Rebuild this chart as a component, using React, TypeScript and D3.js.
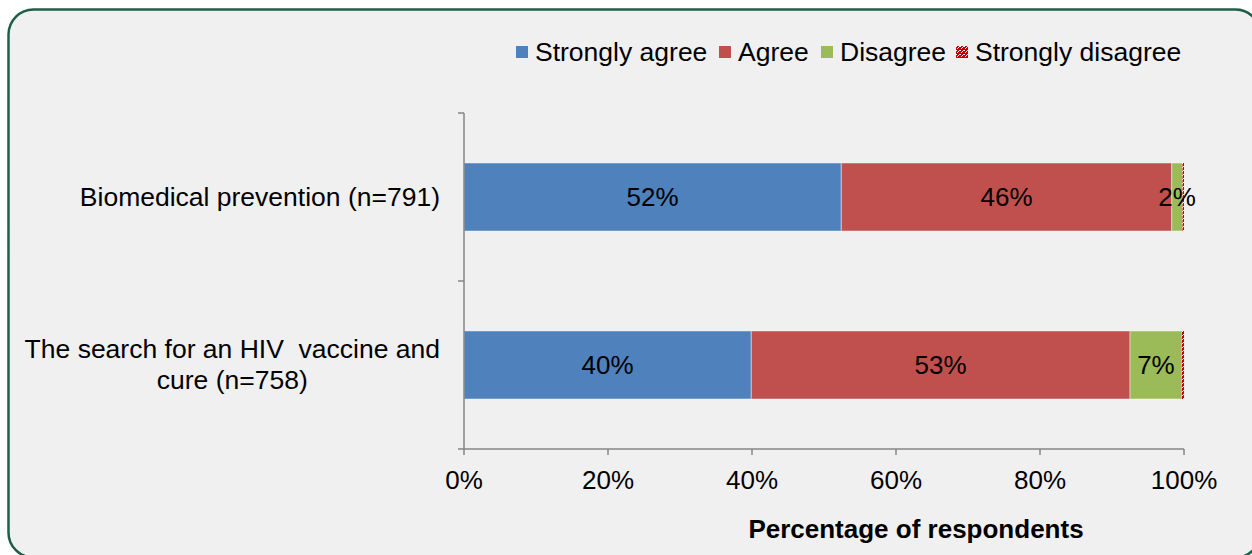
import { useEffect, useRef } from 'react'
import * as d3 from 'd3'

// Stacked 100% bar: agreement by topic
const categories = ['Biomedical prevention (n=791)', 'The search for an HIV  vaccine and cure (n=758)']
const categoryLines = [['Biomedical prevention (n=791)'], ['The search for an HIV  vaccine and', 'cure (n=758)']]
const seriesNames = ['Strongly agree', 'Agree', 'Disagree', 'Strongly disagree']
const stronglyAgree = [52.4, 39.9]
const agree = [45.9, 52.6]
const disagree = [1.5, 7.2]
const stronglyDisagree = [0.2, 0.3]
const dataLabels = [['52%', '46%', '2%', ''], ['40%', '53%', '7%', '']]
const xTicks = [0, 20, 40, 60, 80, 100]
const colors = ['#4f81bd', '#c0504d', '#9bbb59', 'url(#sdPattern)']

const W = 1252
const H = 555
const FONT = '"Liberation Sans", Arial, sans-serif'

export default function App() {
  const svgRef = useRef<SVGSVGElement>(null)

  useEffect(() => {
    document.body.style.margin = '0'
    if (!svgRef.current) return
    const svg = d3.select(svgRef.current)
    svg.selectAll('*').remove()

    const defs = svg.append('defs')
    const pat = defs.append('pattern').attr('id', 'sdPattern').attr('patternUnits', 'userSpaceOnUse')
      .attr('width', 4).attr('height', 4)
    pat.append('rect').attr('width', 4).attr('height', 4).attr('fill', '#c00000')
    pat.append('rect').attr('x', 1).attr('y', 0).attr('width', 1).attr('height', 1).attr('fill', '#fff')
    pat.append('rect').attr('x', 0).attr('y', 2).attr('width', 1).attr('height', 1).attr('fill', '#fff')
    pat.append('rect').attr('x', 3).attr('y', 2).attr('width', 1).attr('height', 1).attr('fill', '#fff')
    pat.append('rect').attr('x', 2).attr('y', 3).attr('width', 1).attr('height', 1).attr('fill', '#fff')

    svg.append('rect').attr('width', W).attr('height', H).attr('fill', '#ffffff')
    // rounded frame, right side runs off the picture
    svg.append('rect').attr('x', 8.5).attr('y', 9.5).attr('width', 1252).attr('height', 548).attr('rx', 25)
      .attr('fill', '#f0f0f0').attr('stroke', '#1f5f47').attr('stroke-width', 2.5)

    const x = d3.scaleLinear().domain([0, 100]).range([464, 1184])
    const y = d3.scaleBand<string>().domain(categories).range([113, 449])
      .paddingInner(0.595).paddingOuter(0.2976)

    const table = categories.map((c, i) => ({
      category: c,
      'Strongly agree': stronglyAgree[i],
      'Agree': agree[i],
      'Disagree': disagree[i],
      'Strongly disagree': stronglyDisagree[i],
    }))
    const stacked = d3.stack<any>().keys(seriesNames)(table)

    const axisColor = '#868686'
    const g = svg.append('g')

    stacked.forEach((layer, si) => {
      layer.forEach((seg, ci) => {
        g.append('rect')
          .attr('x', x(seg[0]))
          .attr('y', y(categories[ci])!)
          .attr('width', x(seg[1]) - x(seg[0]))
          .attr('height', y.bandwidth())
          .attr('fill', colors[si])
          .attr('stroke', si === 3 ? 'none' : 'rgba(255,255,255,0.45)')
          .attr('stroke-width', 1)
      })
    })

    // data labels
    stacked.forEach((layer, si) => {
      layer.forEach((seg, ci) => {
        const t = dataLabels[ci][si]
        if (!t) return
        g.append('text')
          .attr('x', x((seg[0] + seg[1]) / 2))
          .attr('y', y(categories[ci])! + y.bandwidth() / 2 + 9)
          .attr('text-anchor', 'middle')
          .style('font-family', FONT).style('font-size', '26px').style('fill', '#000')
          .text(t)
      })
    })

    // y axis line + ticks at band boundaries
    const [y0, y1] = y.range()
    g.append('line').attr('x1', x(0)).attr('x2', x(0)).attr('y1', y0).attr('y2', y1)
      .attr('stroke', axisColor).attr('stroke-width', 1.5)
    d3.range(categories.length + 1).forEach(i => {
      const yy = y0 + i * y.step()
      g.append('line').attr('x1', x(0) - 6).attr('x2', x(0)).attr('y1', yy).attr('y2', yy)
        .attr('stroke', axisColor).attr('stroke-width', 1.5)
    })

    // x axis
    g.append('line').attr('x1', x(0)).attr('x2', x(100)).attr('y1', y1).attr('y2', y1)
      .attr('stroke', axisColor).attr('stroke-width', 1.5)
    xTicks.forEach(t => {
      g.append('line').attr('x1', x(t)).attr('x2', x(t)).attr('y1', y1).attr('y2', y1 + 6)
        .attr('stroke', axisColor).attr('stroke-width', 1.5)
      g.append('text').attr('x', x(t)).attr('y', 489).attr('text-anchor', 'middle')
        .style('font-family', FONT).style('font-size', '26px').style('fill', '#000')
        .text(`${t}%`)
    })

    g.append('text').attr('x', 916).attr('y', 538).attr('text-anchor', 'middle')
      .style('font-family', FONT).style('font-size', '26px').style('font-weight', 'bold').style('fill', '#000')
      .text('Percentage of respondents')

    // category labels: block right-aligned at 440, lines centered within block
    categoryLines.forEach((lines, ci) => {
      const cy = y(categories[ci])! + y.bandwidth() / 2
      const lh = 31
      const texts = lines.map((ln, li) => g.append('text')
        .attr('y', cy + 9 + (li - (lines.length - 1) / 2) * lh)
        .attr('text-anchor', 'middle')
        .style('font-family', FONT).style('font-size', '26.5px').style('fill', '#000')
        .style('white-space', 'pre')
        .text(ln))
      const maxW = d3.max(texts, t => (t.node() as SVGTextElement).getComputedTextLength()) || 0
      texts.forEach(t => t.attr('x', 440 - maxW / 2))
    })

    // legend
    const legend = svg.append('g')
    const legendX = [516, 719, 821, 956]
    seriesNames.forEach((name, i) => {
      legend.append('rect').attr('x', legendX[i]).attr('y', 46).attr('width', 12).attr('height', 12)
        .attr('fill', colors[i])
      legend.append('text').attr('x', legendX[i] + 19).attr('y', 61)
        .style('font-family', FONT).style('font-size', '26.5px').style('fill', '#000')
        .text(name)
    })
  }, [])

  return <svg ref={svgRef} width={W} height={H} style={{ display: 'block' }} />
}
